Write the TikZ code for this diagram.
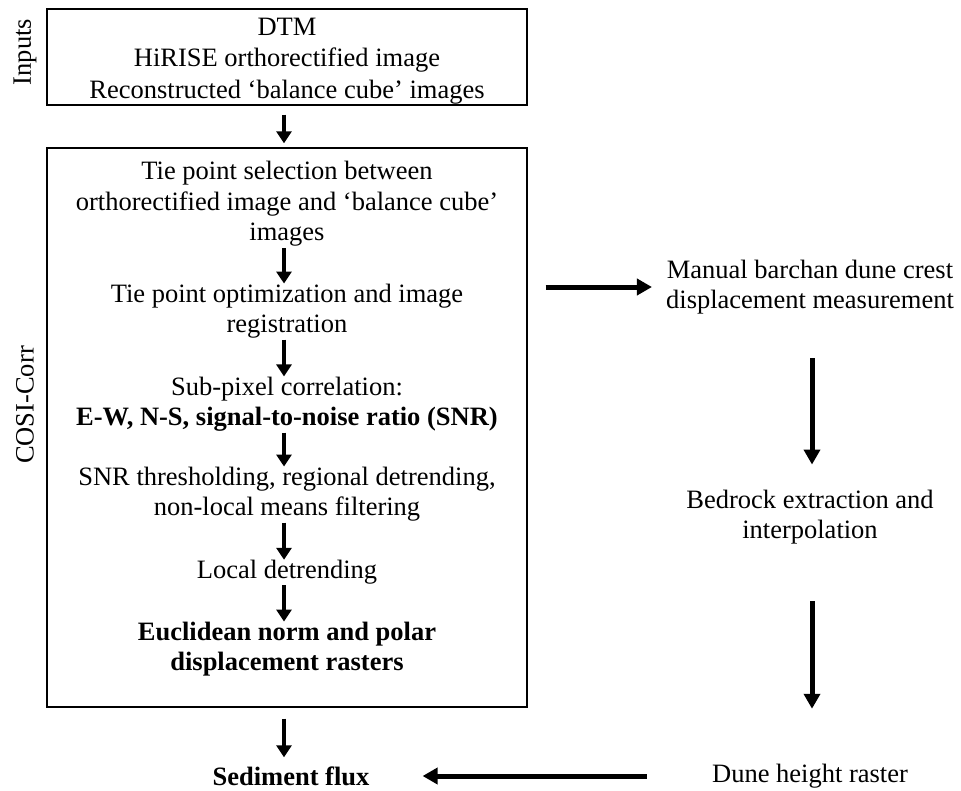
\documentclass[tikz,border=0pt]{standalone}
\usepackage{fontspec}
\setmainfont{Liberation Serif}
\usetikzlibrary{arrows.meta}
\tikzset{
  txt/.style={align=center, inner sep=0pt, font=\fontsize{26.5}{30.5}\selectfont},
  frame/.style={draw, line width=1.4pt, inner sep=0pt},
  sidelabel/.style={rotate=90, inner sep=0pt, font=\fontsize{26.5}{30.5}\selectfont},
  arr/.style={line width=4.5pt, -{Triangle[length=12pt,width=15pt]}},
  bigarr/.style={line width=5pt, -{Triangle[length=15pt,width=16pt]}}
}
\begin{document}
\begin{tikzpicture}[x=1pt,y=-1pt]
\useasboundingbox (0,0) rectangle (961,790);
% boxes
\node[frame, minimum width=480pt, minimum height=96pt] (inp) at (287,57) {};
\node[frame, minimum width=480pt, minimum height=559pt] (cosi) at (287,427.5) {};
% side labels
\node[sidelabel] (linp) at (25,52) {Inputs};
\node[sidelabel] (lcosi) at (25,405) {COSI-Corr};
% input text
\node[txt, font=\fontsize{26.5}{31.5}\selectfont] (intxt) at (287,61) {DTM\\HiRISE orthorectified image\\Reconstructed ‘balance cube’ images};
% cosi steps
\node[txt] (t1) at (287,204) {Tie point selection between\\orthorectified image and ‘balance cube’\\images};
\node[txt] (t2) at (287,311) {Tie point optimization and image\\registration};
\node[txt] (t3) at (287,404) {Sub-pixel correlation:\\\textbf{E-W, N-S, signal-to-noise ratio (SNR)}};
\node[txt] (t4) at (287,494) {SNR thresholding, regional detrending,\\non-local means filtering};
\node[txt] (t5) at (287,572) {Local detrending};
\node[txt, font=\fontsize{26.5}{30.5}\selectfont\bfseries] (t6) at (287,649) {Euclidean norm and polar\\displacement rasters};
% outputs
\node[txt, font=\fontsize{26.5}{30.5}\selectfont\bfseries] (sed) at (291,776) {Sediment flux};
\node[txt] (man) at (810,287) {Manual barchan dune crest\\displacement measurement};
\node[txt] (bed) at (810,517) {Bedrock extraction and\\interpolation};
\node[txt] (dune) at (810,776) {Dune height raster};
% arrows
\draw[arr, shorten <=9pt, shorten >=4pt] ([xshift=-3pt]inp.south) -- ([xshift=-3pt]cosi.north);
\draw[arr, shorten <=1pt, shorten >=0pt] ([xshift=-3pt]t1.south) -- ([xshift=-3pt]t2.north);
\draw[arr, shorten <=1pt, shorten >=0pt] ([xshift=-3pt]t2.south) -- ([xshift=-3pt]t3.north);
\draw[arr, shorten <=1pt, shorten >=0pt] ([xshift=-3pt]t3.south) -- ([xshift=-3pt]t4.north);
\draw[arr, shorten <=1pt, shorten >=0pt] ([xshift=-3pt]t4.south) -- ([xshift=-3pt]t5.north);
\draw[arr, shorten <=1pt, shorten >=0pt] ([xshift=-3pt]t5.south) -- ([xshift=-3pt]t6.north);
\draw[arr, shorten <=11pt, shorten >=9pt] ([xshift=-3pt]cosi.south) -- ([xshift=-7pt]sed.north);
\draw[bigarr, shorten <=18pt, shorten >=14pt] (cosi.east |- man.west) -- (man.west);
\draw[bigarr, shorten <=44pt, shorten >=25pt] ([xshift=2pt]man.south) -- ([xshift=2pt]bed.north);
\draw[bigarr, shorten <=57pt, shorten >=55pt] ([xshift=2pt]bed.south) -- ([xshift=2pt]dune.north);
\draw[bigarr, shorten <=65pt, shorten >=53pt] (dune.west) -- (sed.east);
\end{tikzpicture}
\end{document}
